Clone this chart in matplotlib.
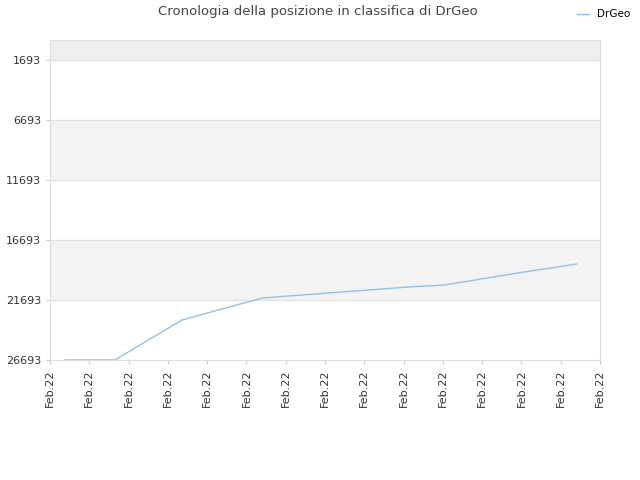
import matplotlib
matplotlib.use("Agg")
import matplotlib.pyplot as plt

x_vals = [0.38, 1.65, 3.36, 5.4, 6.1, 7.13, 8.14, 9.16, 10.05, 11.7, 13.41]
ranks = [26693, 26693, 23360, 21530, 21350, 21100, 20850, 20600, 20440, 19550, 18690]
y_ticks = [1693, 6693, 11693, 16693, 21693, 26693]
x_labels = ["Feb.22"] * 15

fig = plt.figure(figsize=(6.4, 4.8), dpi=100)
ax = fig.add_axes([50/640, 1-360/480, 550/640, 320/480])
ax.set_xlim(0, 14)
ax.set_ylim(26693, 1693 - 5000/3)
# bands
ax.axhspan(1693, 1693 - 5000/3, color="#eeeeee", zorder=0)
ax.axhspan(6693, 11693, color="#f3f3f3", zorder=0)
ax.axhspan(16693, 21693, color="#f3f3f3", zorder=0)
for t in y_ticks:
    ax.axhline(t, color="#e0e0e0", lw=0.8, zorder=1)
ax.plot(x_vals, ranks, color="#90c0f0", lw=1, label="DrGeo", zorder=3)
ax.set_yticks(y_ticks)
ax.set_yticklabels([str(t) for t in y_ticks], fontsize=8, color="#333333")
ax.set_xticks(range(15))
ax.set_xticklabels(x_labels, rotation=90, fontsize=8, color="#333333")
ax.tick_params(length=3, color="#cccccc")
for s in ax.spines.values():
    s.set_color("#dddddd")
fig.text(318/640, 1-12/480, "Cronologia della posizione in classifica di DrGeo",
         ha="center", va="center", fontsize=9.5, color="#444444")
fig.legend(loc="upper right", bbox_to_anchor=(1.0, 1.0), frameon=False, fontsize=7.5,
           handlelength=1.2)
fig.savefig("out.png", dpi=100)
